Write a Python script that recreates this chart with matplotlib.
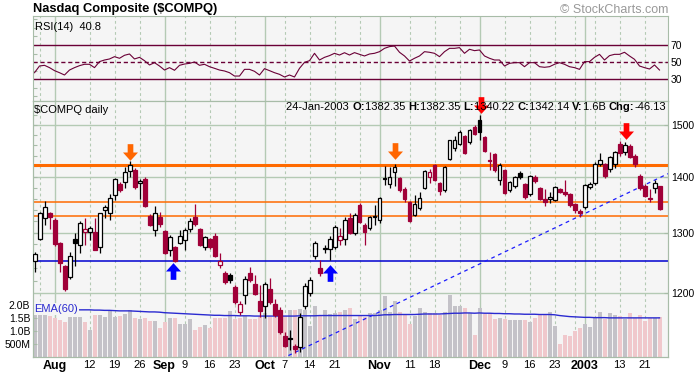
import numpy as np
import pandas as pd
import matplotlib
matplotlib.use("Agg")
import matplotlib.pyplot as plt
from matplotlib.path import Path
from matplotlib.ticker import FixedLocator, NullFormatter, NullLocator

plt.rcParams["font.family"] = ["Liberation Sans", "DejaVu Sans"]

# daily bars, 26-Jul-2002 .. 24-Jan-2003
opens = [1252, 1289, 1325, 1335, 1323, 1282, 1244, 1225, 1290, 1279,
         1302, 1302, 1302, 1275, 1339, 1334, 1367, 1386, 1390, 1412,
         1413, 1388, 1397, 1330, 1304, 1328, 1303, 1271, 1275, 1282,
         1287, 1306, 1328, 1306, 1275, 1289, 1295, 1246, 1232, 1229,
         1210, 1170, 1197, 1232, 1214, 1188, 1180, 1207, 1183, 1173,
         1134, 1131, 1118, 1117, 1180, 1200, 1260, 1241, 1272, 1272,
         1276, 1288, 1290, 1326, 1299, 1349, 1314, 1308, 1328, 1323,
         1398, 1387, 1410, 1398, 1378, 1354, 1331, 1344, 1379, 1400,
         1422, 1388, 1375, 1433, 1454, 1463, 1478, 1466, 1497, 1509,
         1476, 1432, 1443, 1395, 1413, 1375, 1384, 1408, 1387, 1368,
         1400, 1380, 1360, 1360, 1358, 1378, 1372, 1369, 1351, 1338,
         1345, 1382, 1388, 1425, 1424, 1415, 1424, 1462, 1447, 1459,
         1440, 1402, 1383, 1362, 1380, 1382.35]
highs = [1267, 1337, 1356, 1337, 1326, 1284, 1246, 1267, 1300, 1320,
         1325, 1312, 1325, 1335, 1349, 1368, 1398, 1390, 1419, 1429,
         1416, 1397, 1399, 1332, 1347, 1337, 1305, 1296, 1278, 1305,
         1309, 1325, 1350, 1308, 1295, 1291, 1300, 1266, 1236, 1233,
         1212, 1187, 1227, 1242, 1229, 1213, 1218, 1224, 1190, 1178,
         1140, 1143, 1121, 1168, 1216, 1225, 1285, 1254, 1279, 1294,
         1313, 1308, 1328, 1335, 1335, 1352, 1316, 1330, 1349, 1363,
         1420, 1418, 1425, 1400, 1381, 1356, 1366, 1372, 1413, 1415,
         1425, 1390, 1420, 1471, 1478, 1490, 1480, 1492, 1500, 1521,
         1478, 1447, 1446, 1427, 1415, 1393, 1402, 1412, 1389, 1403,
         1404, 1382, 1378, 1373, 1384, 1380, 1394, 1371, 1352, 1341,
         1387, 1390, 1428, 1445, 1427, 1440, 1450, 1469, 1466, 1463,
         1444, 1405, 1386, 1378, 1395, 1382.35]
lows = [1234, 1287, 1314, 1306, 1278, 1234, 1203, 1222, 1243, 1265,
        1279, 1288, 1270, 1265, 1325, 1323, 1358, 1372, 1379, 1400,
        1378, 1359, 1345, 1312, 1295, 1310, 1263, 1261, 1250, 1280,
        1271, 1302, 1312, 1277, 1271, 1272, 1258, 1240, 1215, 1216,
        1183, 1166, 1182, 1218, 1196, 1163, 1161, 1183, 1163, 1136,
        1117, 1112, 1108, 1109, 1175, 1195, 1256, 1227, 1266, 1253,
        1272, 1279, 1279, 1297, 1296, 1316, 1279, 1305, 1314, 1316,
        1385, 1379, 1383, 1373, 1355, 1318, 1329, 1340, 1377, 1388,
        1392, 1366, 1373, 1431, 1450, 1460, 1443, 1463, 1480, 1470,
        1447, 1413, 1410, 1385, 1368, 1372, 1380, 1397, 1360, 1365,
        1388, 1358, 1347, 1352, 1356, 1370, 1365, 1346, 1335, 1328,
        1342, 1378, 1385, 1420, 1398, 1410, 1417, 1440, 1442, 1436,
        1418, 1375, 1363, 1355, 1370, 1340.22]
closes = [1263, 1335, 1345, 1328, 1280, 1249, 1206, 1260, 1282, 1317,
          1307, 1309, 1271, 1334, 1345, 1361, 1396, 1376, 1409, 1422,
          1381, 1392, 1347, 1314, 1335, 1315, 1265, 1292, 1252, 1295,
          1304, 1320, 1315, 1279, 1292, 1276, 1260, 1252, 1217, 1221,
          1185, 1182, 1222, 1221, 1198, 1172, 1214, 1186, 1166, 1140,
          1119, 1129, 1114, 1163, 1211, 1221, 1283, 1233, 1274, 1289,
          1310, 1295, 1322, 1299, 1331, 1319, 1301, 1327, 1330, 1361,
          1396, 1400, 1419, 1376, 1360, 1321, 1350, 1362, 1411, 1410,
          1394, 1374, 1419, 1470, 1471, 1486, 1445, 1491, 1483, 1486,
          1449, 1430, 1413, 1423, 1371, 1390, 1399, 1400, 1363, 1401,
          1392, 1360, 1355, 1363, 1382, 1372, 1368, 1348, 1340, 1335,
          1385, 1387, 1425, 1432, 1401, 1437, 1447, 1446, 1461, 1438,
          1424, 1380, 1365, 1359, 1388, 1342.14]
volume_b = [1.70, 1.70, 1.70, 1.60, 1.51, 1.42, 1.35, 1.54, 1.55, 1.54,
            1.35, 1.06, 1.62, 1.62, 1.54, 1.77, 1.54, 1.58, 1.67, 1.81,
            1.49, 1.45, 1.49, 1.39, 1.39, 1.10, 1.36, 1.49, 1.49, 1.29,
            1.26, 1.45, 1.06, 1.17, 1.23, 1.10, 1.49, 1.51, 1.51, 1.77,
            1.47, 1.51, 1.58, 1.47, 1.45, 1.58, 1.70, 1.54, 1.58, 1.55,
            1.58, 1.83, 1.83, 1.86, 1.83, 1.19, 1.96, 1.60, 1.81, 1.67,
            1.68, 1.73, 1.83, 1.90, 1.45, 1.62, 1.54, 1.70, 1.70, 1.83,
            2.37, 1.73, 2.15, 1.74, 1.62, 1.26, 1.58, 1.90, 1.74, 1.68,
            1.68, 1.62, 1.74, 2.41, 1.96, 1.96, 1.90, 1.70, 0.83, 1.90,
            1.67, 1.70, 1.45, 1.51, 1.47, 1.41, 1.41, 1.41, 1.41, 1.35,
            1.51, 1.62, 1.62, 1.74, 1.19, 0.52, 0.83, 0.80, 1.02, 1.13,
            1.29, 1.15, 1.55, 1.74, 1.45, 1.68, 1.64, 1.60, 1.45, 1.68,
            1.51, 1.62, 1.39, 1.49, 1.49, 1.55]
vol_ema_b = [1.84, 1.84, 1.84, 1.83, 1.83, 1.83, 1.82, 1.82, 1.82, 1.82,
             1.82, 1.82, 1.81, 1.81, 1.80, 1.80, 1.79, 1.78, 1.78, 1.78,
             1.77, 1.76, 1.75, 1.74, 1.74, 1.73, 1.71, 1.70, 1.69, 1.68,
             1.67, 1.66, 1.65, 1.64, 1.63, 1.62, 1.61, 1.61, 1.60, 1.60,
             1.60, 1.59, 1.59, 1.59, 1.58, 1.58, 1.58, 1.58, 1.58, 1.58,
             1.58, 1.58, 1.58, 1.59, 1.59, 1.59, 1.59, 1.60, 1.60, 1.60,
             1.60, 1.60, 1.60, 1.60, 1.60, 1.60, 1.60, 1.60, 1.60, 1.61,
             1.63, 1.63, 1.64, 1.64, 1.64, 1.64, 1.64, 1.65, 1.66, 1.66,
             1.66, 1.66, 1.67, 1.68, 1.69, 1.69, 1.70, 1.70, 1.69, 1.70,
             1.69, 1.69, 1.68, 1.68, 1.67, 1.67, 1.66, 1.66, 1.65, 1.65,
             1.65, 1.64, 1.64, 1.64, 1.63, 1.60, 1.58, 1.56, 1.55, 1.54,
             1.53, 1.53, 1.52, 1.52, 1.52, 1.51, 1.51, 1.51, 1.51, 1.51,
             1.51, 1.51, 1.51, 1.51, 1.51, 1.51]
rsi14 = [37.7, 45.5, 46.3, 43.6, 40.1, 37.7, 35.0, 40.8, 43.6, 45.9,
         47.5, 47.5, 43.6, 50.6, 52.5, 53.7, 56.4, 54.5, 58.0, 59.5,
         53.7, 55.6, 51.7, 46.7, 49.4, 45.5, 40.8, 43.6, 40.5, 46.3,
         47.8, 48.6, 50.2, 46.3, 47.5, 44.7, 42.8, 40.8, 39.7, 37.7,
         33.8, 33.8, 41.6, 41.6, 39.3, 35.0, 42.4, 40.1, 37.7, 35.8,
         32.7, 35.0, 32.7, 42.8, 49.8, 51.7, 60.3, 52.5, 55.6, 57.6,
         60.3, 58.3, 61.0, 58.3, 61.1, 59.1, 57.2, 59.5, 60.3, 62.2,
         66.1, 68.1, 68.8, 61.5, 57.2, 51.3, 54.5, 57.2, 62.2, 61.5,
         60.3, 56.4, 62.2, 66.1, 66.1, 66.9, 60.3, 65.0, 63.4, 64.2,
         57.2, 54.5, 52.5, 52.5, 45.5, 48.6, 49.4, 49.4, 44.7, 49.4,
         49.4, 44.7, 44.0, 44.7, 47.5, 49.4, 47.5, 44.7, 43.6, 41.6,
         50.6, 50.6, 55.6, 59.1, 52.5, 57.6, 59.1, 59.1, 61.5, 57.2,
         53.3, 45.5, 43.6, 42.0, 46.7, 40.8]

holidays = ["2002-09-02", "2002-11-28", "2002-12-25", "2003-01-01", "2003-01-20"]
tick_dates = ["2002-08-01", "2002-08-12", "2002-08-19", "2002-08-26", "2002-09-03",
              "2002-09-09", "2002-09-16", "2002-09-23", "2002-10-01", "2002-10-07",
              "2002-10-14", "2002-10-21", "2002-11-01", "2002-11-11", "2002-11-18",
              "2002-12-02", "2002-12-09", "2002-12-16", "2002-12-23", "2003-01-02",
              "2003-01-13", "2003-01-21"]
tick_labels = ["Aug", "12", "19", "26", "Sep", "9", "16", "23", "Oct", "7", "14", "21",
               "Nov", "11", "18", "Dec", "9", "16", "23", "2003", "13", "21"]
month_dates = ["2002-08-01", "2002-09-03", "2002-10-01", "2002-11-01", "2002-12-02", "2003-01-02"]
week_dates = ["2002-07-29", "2002-08-12", "2002-08-19", "2002-08-26", "2002-09-09",
              "2002-09-16", "2002-09-23", "2002-10-07", "2002-10-14", "2002-10-21",
              "2002-10-28", "2002-11-11", "2002-11-18", "2002-11-25", "2002-12-09",
              "2002-12-16", "2002-12-23", "2002-12-30", "2003-01-06", "2003-01-13",
              "2003-01-21"]

# support / resistance levels and the rising trendline (two touch points)
resist_thick = 1422.5
resist_thin = [1355, 1328.5]
support_blue = 1252
trend_idx = [52, 109]
trend_px = [1108.5, 1329]

# hand-drawn arrows: (bar position, price at arrow centre)
orange_down = ([19.1, 72.1], [1448, 1450])
red_down = ([89.3, 118.2], [1541, 1488])
blue_up = ([27.7, 59.1], [1235, 1233])

days = pd.bdate_range("2002-07-26", "2003-01-24")
days = days[~days.isin(pd.to_datetime(holidays))]
pos = {d: i for i, d in enumerate(days)}


def idx(ds):
    return [pos[pd.Timestamp(d)] for d in ds]


o = np.array(opens, float)
h = np.array(highs, float)
l = np.array(lows, float)
c = np.array(closes, float)
x = np.arange(len(c))
chg = np.diff(c, prepend=c[0] - 1)

RED = "#a00038"
GRID = "#b4cab4"
BG = "#f5f5f5"
MAROON = "#6a0036"
TICK = "#a8bca8"

fig = plt.figure(figsize=(6.96, 3.74), dpi=100)
L, W = 33 / 696, 635 / 696
ax_rsi = fig.add_axes([L, 273 / 374, W, 85 / 374])
ax_v = fig.add_axes([L, 17 / 374, W, 256 / 374])
ax = fig.add_axes([L, 17 / 374, W, 256 / 374], sharex=ax_v)
ax.patch.set_visible(False)

xl = (-0.3, 126.7)
for a in (ax_rsi, ax_v):
    a.set_facecolor(BG)
    for d in idx(week_dates):
        a.axvline(d, color=GRID, lw=0.8, ls=(0, (2.5, 2.5)), zorder=0)
    for d in idx(month_dates):
        a.axvline(d, color=GRID, lw=1.0, zorder=0)
for a in (ax_rsi, ax_v, ax):
    a.set_xlim(*xl)
    for s in a.spines.values():
        s.set_color(TICK)
        s.set_linewidth(0.8)


def left_marks(a, values):
    # short unlabeled tick marks along the left edge
    sec = a.secondary_yaxis("left")
    sec.yaxis.set_major_locator(FixedLocator(values))
    sec.yaxis.set_major_formatter(NullFormatter())
    sec.yaxis.set_minor_locator(NullLocator())
    sec.yaxis.set_minor_formatter(NullFormatter())
    sec.tick_params(direction="in", length=3, color=TICK)
    sec.spines["left"].set_visible(False)


# RSI panel
ax_rsi.set_ylim(4.7, 103.8)
ax_rsi.axhline(70, color=MAROON, lw=1.0)
ax_rsi.axhline(30, color=MAROON, lw=1.0)
ax_rsi.axhline(50, color=MAROON, lw=1.0, ls=(0, (3, 2)))
ax_rsi.plot(x, rsi14, color=MAROON, lw=0.8)
ax_rsi.set_xticks([])
ax_rsi.yaxis.tick_right()
ax_rsi.set_yticks([30, 50, 70])
ax_rsi.tick_params(axis="y", direction="in", length=3, pad=2, labelsize=7.5, color=TICK)
ax_rsi.text(0.003, 0.93, "RSI(14)  %.1f" % rsi14[-1], transform=ax_rsi.transAxes,
            fontsize=8, va="top", ha="left")
left_marks(ax_rsi, list(range(10, 101, 10)))

# volume underneath
vcol = np.where(chg < 0, "#f0c8cc", "#c4c2c8")
ax_v.bar(x, volume_b, width=0.8, color=vcol, zorder=1)
ax_v.plot(x, vol_ema_b, color="#2a2ad0", lw=1.0, zorder=2)
ax_v.set_ylim(0, 9.88)
ax_v.set_yticks([0.5, 1.0, 1.5, 2.0])
ax_v.set_yticklabels(["500M", "1.0B", "1.5B", "2.0B"])
ax_v.tick_params(axis="y", direction="in", length=3, pad=2, labelsize=7.5, color=TICK)
ax_v.text(0.002, 0.187, "EMA(60)", transform=ax_v.transAxes, fontsize=8, color="#2a2ad0",
          va="center", ha="left", zorder=3,
          bbox=dict(facecolor=BG, edgecolor="none", pad=0.5))

# price panel
ax.set_yscale("log")
ax.set_ylim(1102.1, 1548.6)
for p in (1200, 1300, 1400, 1500):
    ax.axhline(p, color=GRID, lw=1.0, zorder=0)
ax.axhline(resist_thick, color="#ff6a00", lw=2.2, zorder=1)
for p in resist_thin:
    ax.axhline(p, color="#ff6a00", lw=1.1, zorder=1)
ax.axhline(support_blue, color="#0000d0", lw=1.1, zorder=1)

slope = np.log(trend_px[1] / trend_px[0]) / (trend_idx[1] - trend_idx[0])
tx = np.array(xl)
ax.plot(tx, trend_px[0] * np.exp(slope * (tx - trend_idx[0])), color="#1c1cff",
        lw=0.9, ls=(0, (3, 3)), zorder=1)

col = np.where(chg < 0, RED, "black")
ax.vlines(x, l, h, colors=col, lw=0.9, zorder=2)
hollow = c >= o
fc = np.where(hollow, "white", col)
ax.bar(x, np.maximum(np.abs(c - o), 0.6), bottom=np.minimum(o, c), width=0.8,
       facecolor=fc, edgecolor=col, linewidth=0.9, zorder=3)

ax.yaxis.tick_right()
ax.yaxis.set_major_locator(FixedLocator([1200, 1300, 1400, 1500]))
ax.set_yticklabels(["1200", "1300", "1400", "1500"])
ax.yaxis.set_minor_locator(NullLocator())
ax.yaxis.set_minor_formatter(NullFormatter())
ax.tick_params(axis="y", direction="in", length=3, pad=2, labelsize=7.5, color=TICK)
left_marks(ax, list(range(1220, 1541, 20)))

ax_v.set_xticks(idx(tick_dates))
ax_v.set_xticklabels(tick_labels)
ax_v.tick_params(axis="x", length=0, pad=2, labelsize=8)
for t in ax_v.get_xticklabels():
    if not t.get_text().isdigit() or len(t.get_text()) == 4:
        t.set_fontweight("bold")
        t.set_fontsize(9)
ax.tick_params(axis="x", bottom=False, labelbottom=False)

# block arrows as markers
dn = Path([(-0.17, 0.5), (0.17, 0.5), (0.17, 0.0), (0.45, 0.0), (0.0, -0.5),
           (-0.45, 0.0), (-0.17, 0.0), (-0.17, 0.5)],
          [Path.MOVETO] + [Path.LINETO] * 6 + [Path.CLOSEPOLY])
up = Path(dn.vertices * [1, -1], dn.codes)
ax.plot(*orange_down, ls="none", marker=dn, ms=12, mew=0, color="#ff6600", zorder=5, clip_on=False)
ax.plot(*red_down, ls="none", marker=dn, ms=12, mew=0, color="#ff0000", zorder=5, clip_on=False)
ax.plot(*blue_up, ls="none", marker=up, ms=12, mew=0, color="#0000ff", zorder=5)

ax.text(0.002, 0.985, "$COMPQ daily", transform=ax.transAxes, fontsize=8, va="top", ha="left")

# header line with bold field names, right-aligned
parts = [("24-Jan-2003 ", "normal"), ("O:", "bold"), ("1382.35 ", "normal"),
         ("H:", "bold"), ("1382.35 ", "normal"), ("L:", "bold"), ("1340.22 ", "normal"),
         ("C:", "bold"), ("1342.14 ", "normal"), ("V:", "bold"), ("1.6B ", "normal"),
         ("Chg:", "bold"), ("-46.13", "normal")]
r = fig.canvas.get_renderer()
texts = [fig.text(0, 0, s, fontsize=8, fontweight=wt, va="center") for s, wt in parts]
widths = [t.get_window_extent(r).width for t in texts]
xpos = 666 - sum(widths)
for t, w in zip(texts, widths):
    t.set_x(xpos / 696)
    t.set_y(1 - 107.5 / 374)
    xpos += w

fig.text(33 / 696, 1 - 9 / 374, "Nasdaq Composite ($COMPQ)", fontsize=9.3, fontweight="bold",
         va="center", ha="left")
fig.text(668 / 696, 1 - 10 / 374, "\u00a9 StockCharts.com", fontsize=9, color="#999999",
         va="center", ha="right")

fig.savefig("out.png", dpi=100)
